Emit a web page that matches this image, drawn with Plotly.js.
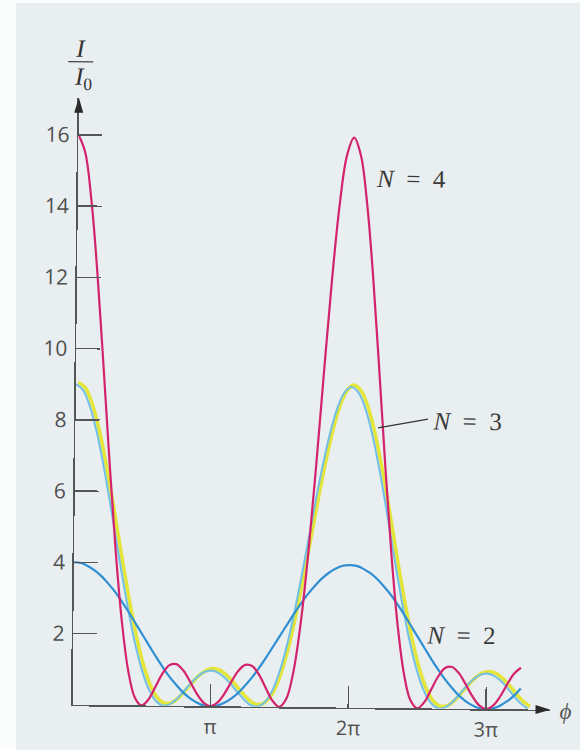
<!DOCTYPE html>
<html>
<head>
<meta charset="utf-8">
<script src="https://cdn.plot.ly/plotly-3.0.1.min.js"></script>
<style>
  html, body { margin: 0; padding: 0; background: #e9eef0; width: 580px; height: 750px; overflow: hidden; }
  #strip { position: absolute; left: 0; top: 0; width: 16px; height: 750px; background: #fbfcfc; }
  #topstrip { position: absolute; left: 0; top: 0; width: 580px; height: 3px; background: #fbfcfc; }
  #plot { position: absolute; left: 0; top: 0; width: 580px; height: 750px;
          transform: rotate(0.6deg); transform-origin: 290px 375px; }
</style>
</head>
<body>
<div id="strip"></div>
<div id="topstrip"></div>
<div id="plot"></div>
<script>
// phase difference phi, in units of pi
const phiOverPi = [0,0.05,0.1,0.15,0.2,0.25,0.3,0.35,0.4,0.45,0.5,0.55,0.6,0.65,0.7,0.75,0.8,0.85,0.9,0.95,
  1,1.05,1.1,1.15,1.2,1.25,1.3,1.35,1.4,1.45,1.5,1.55,1.6,1.65,1.7,1.75,1.8,1.85,1.9,1.95,
  2,2.05,2.1,2.15,2.2,2.25,2.3,2.35,2.4,2.45,2.5,2.55,2.6,2.65,2.7,2.75,2.8,2.85,2.9,2.95,
  3,3.05,3.1,3.15,3.2,3.25,3.3];

// I/I0
const intensityN2 = [4,3.98,3.9,3.78,3.62,3.41,3.18,2.91,2.62,2.31,2,1.69,1.38,1.09,0.82,0.59,0.38,0.22,0.1,0.02,0,
  0.02,0.1,0.22,0.38,0.59,0.82,1.09,1.38,1.69,2,2.31,2.62,2.91,3.18,3.41,3.62,3.78,3.9,3.98,4,
  3.98,3.9,3.78,3.62,3.41,3.18,2.91,2.62,2.31,2,1.69,1.38,1.09,0.82,0.59,0.38,0.22,0.1,0.02,0,
  0.02,0.1,0.22,0.38,0.59];

const intensityN3 = [9,8.85,8.42,7.74,6.85,5.83,4.73,3.64,2.62,1.72,1,0.47,0.15,0.01,0.03,0.17,0.38,0.61,0.81,0.95,1,
  0.95,0.81,0.61,0.38,0.17,0.03,0.01,0.15,0.47,1,1.72,2.62,3.64,4.73,5.83,6.85,7.74,8.42,8.85,9,
  8.85,8.42,7.74,6.85,5.83,4.73,3.64,2.62,1.72,1,0.47,0.15,0.01,0.03,0.17,0.38,0.61,0.81,0.95,1,
  0.95,0.81,0.61,0.38,0.17,0.03];

const intensityN4 = [16,15.51,14.12,12.01,9.47,6.83,4.39,2.4,1,0.23,0,0.17,0.53,0.9,1.14,1.17,1,0.69,0.35,0.1,0,
  0.1,0.35,0.69,1,1.17,1.14,0.9,0.53,0.17,0,0.23,1,2.4,4.39,6.83,9.47,12.01,14.12,15.51,16,
  15.51,14.12,12.01,9.47,6.83,4.39,2.4,1,0.23,0,0.17,0.53,0.9,1.14,1.17,1,0.69,0.35,0.1,0,
  0.1,0.35,0.69,1,1.17];

const xTickVals = [1, 2, 3];
const xTickText = ['π', '2π', '3π'];
const yTickVals = [2, 4, 6, 8, 10, 12, 14, 16];
const yTickText = ['2', '4', '6', '8', '10', '12', '14', '16'];

const xMax = 3.4675, yMax = 17.04;
const shiftX = 0.018, shiftY = 0.056; // print misregistration of the yellow layer

const xs = arr => phiOverPi.slice(0, arr.length);

const traces = [
  { x: xs(intensityN3), y: intensityN3, xaxis: 'x', yaxis: 'y', mode: 'lines',
    line: { color: '#e3e53a', width: 3.6, shape: 'spline', smoothing: 1 }, hoverinfo: 'skip' },
  { x: xs(intensityN3), y: intensityN3, xaxis: 'x2', yaxis: 'y2', mode: 'lines',
    line: { color: '#72bfe6', width: 2, shape: 'spline', smoothing: 1 }, hoverinfo: 'skip' },
  { x: xs(intensityN2), y: intensityN2, xaxis: 'x2', yaxis: 'y2', mode: 'lines',
    line: { color: '#2f8fd2', width: 2.2, shape: 'spline', smoothing: 1 }, hoverinfo: 'skip' },
  { x: xs(intensityN4), y: intensityN4, xaxis: 'x2', yaxis: 'y2', mode: 'lines',
    line: { color: '#d3236d', width: 2.2, shape: 'spline', smoothing: 1 }, hoverinfo: 'skip' }
];

const tickFont = { family: 'Open Sans, sans-serif', size: 21, color: '#505050' };
const labelFont = { family: 'Liberation Serif, serif', size: 25, color: '#3a3a3a' };
const nb = '\u00a0';

const layout = {
  width: 580, height: 750,
  margin: { l: 76, r: 26, t: 100, b: 43 },
  paper_bgcolor: 'rgba(0,0,0,0)', plot_bgcolor: 'rgba(0,0,0,0)',
  showlegend: false,
  xaxis: { range: [-shiftX, xMax - shiftX], visible: false, fixedrange: true },
  yaxis: { range: [-shiftY, yMax - shiftY], visible: false, fixedrange: true },
  xaxis2: {
    overlaying: 'x', anchor: 'y2', side: 'bottom', range: [0, xMax],
    showline: true, linecolor: '#555', linewidth: 1.6,
    ticks: 'inside', ticklen: 22, tickwidth: 1.5, tickcolor: '#555',
    tickvals: xTickVals, ticktext: xTickText,
    tickfont: { family: 'Open Sans, sans-serif', size: 20, color: '#505050' },
    ticklabelstandoff: 2,
    showgrid: false, zeroline: false, fixedrange: true
  },
  yaxis2: {
    overlaying: 'y', anchor: 'x2', side: 'left', range: [0, yMax],
    showline: true, linecolor: '#555', linewidth: 1.6,
    ticks: 'inside', ticklen: 24, tickwidth: 1.5, tickcolor: '#555',
    tickvals: yTickVals, ticktext: yTickText, tickfont: tickFont,
    ticklabelstandoff: 3,
    showgrid: false, zeroline: false, fixedrange: true
  },
  shapes: [
    // x-axis arrowhead
    { type: 'path', xref: 'paper', yref: 'paper', xsizemode: 'pixel', ysizemode: 'pixel',
      xanchor: 1, yanchor: 0, path: 'M0,0 L-15,4.5 L-15,-4.5 Z',
      fillcolor: '#2a2a2a', line: { width: 0 } },
    // y-axis arrowhead
    { type: 'path', xref: 'paper', yref: 'paper', xsizemode: 'pixel', ysizemode: 'pixel',
      xanchor: 0, yanchor: 1, path: 'M0,0 L-4.5,-15 L4.5,-15 Z',
      fillcolor: '#2a2a2a', line: { width: 0 } },
    // fraction bar of I/I0
    { type: 'line', xref: 'paper', yref: 'paper', xsizemode: 'pixel', ysizemode: 'pixel',
      xanchor: 0, yanchor: 1, x0: -11, x1: 14, y0: 36, y1: 36,
      line: { color: '#444', width: 1.2 } },
    // leader line for N = 3
    { type: 'line', xref: 'x2', yref: 'y2', x0: 2.195, y0: 7.86, x1: 2.557, y1: 8.12,
      line: { color: '#333', width: 1.3 } }
  ],
  annotations: [
    { xref: 'paper', yref: 'paper', x: 0, y: 1, xanchor: 'center', yanchor: 'middle',
      xshift: 1, yshift: 50, text: '<i>I</i>', showarrow: false,
      font: { family: 'Liberation Serif, serif', size: 25, color: '#333' } },
    { xref: 'paper', yref: 'paper', x: 0, y: 1, xanchor: 'center', yanchor: 'middle',
      xshift: 4, yshift: 20, text: '<i>I</i><sub>0</sub>', showarrow: false,
      font: { family: 'Liberation Serif, serif', size: 25, color: '#333' } },
    { xref: 'paper', yref: 'paper', x: 1, y: 0, xanchor: 'center', yanchor: 'middle',
      xshift: 15, yshift: -1, text: '<i>ϕ</i>',
      showarrow: false, font: { family: 'Liberation Serif, serif', size: 23, color: '#555' } },
    { xref: 'x2', yref: 'y2', x: 2.416, y: 14.86, text: '<i>N</i>' + nb + nb + '=' + nb + nb + '4',
      showarrow: false, font: labelFont },
    { xref: 'x2', yref: 'y2', x: 2.84, y: 8.06, text: '<i>N</i>' + nb + nb + '=' + nb + nb + '3',
      showarrow: false, font: labelFont },
    { xref: 'x2', yref: 'y2', x: 2.812, y: 2.07, text: '<i>N</i>' + nb + nb + '=' + nb + nb + '2',
      showarrow: false, font: labelFont }
  ]
};

Plotly.newPlot('plot', traces, layout, { staticPlot: true, displayModeBar: false });
</script>
</body>
</html>
